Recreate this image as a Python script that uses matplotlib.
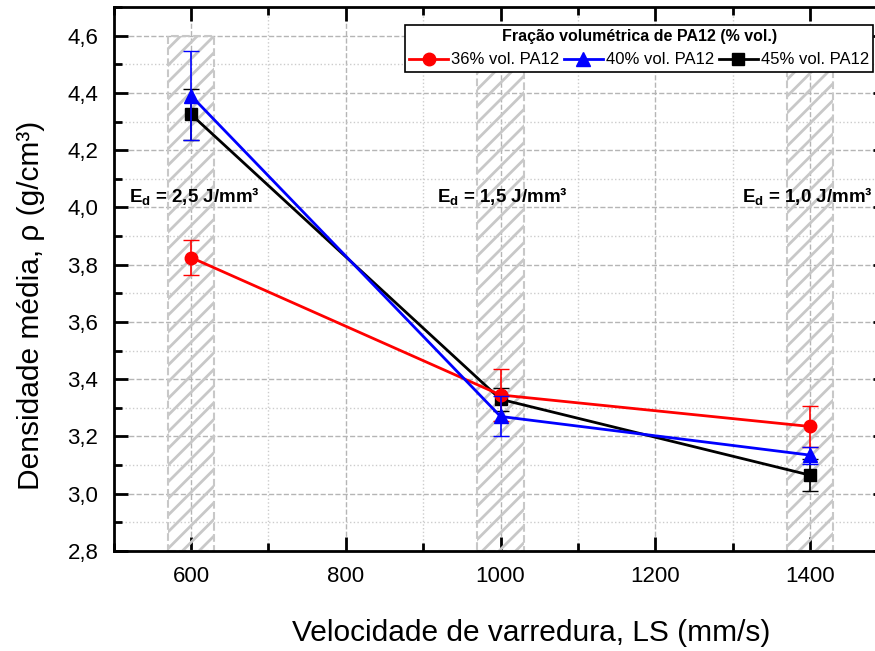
import matplotlib
matplotlib.use("Agg")
import matplotlib.pyplot as plt
from matplotlib.ticker import MultipleLocator, FuncFormatter
from matplotlib.patches import Rectangle

plt.rcParams['font.family'] = ['Liberation Sans', 'DejaVu Sans']
plt.rcParams['mathtext.fontset'] = 'custom'
plt.rcParams['mathtext.rm'] = 'Liberation Sans:bold'
plt.rcParams['mathtext.default'] = 'rm'
plt.rcParams['hatch.color'] = '#c8c8c8'
plt.rcParams['hatch.linewidth'] = 2.0

# data
speeds = [600, 1000, 1400]
energies = ["2,5", "1,5", "1,0"]

d36 = [3.825, 3.345, 3.235]
e36 = [0.06, 0.09, 0.07]
d40 = [4.39, 3.27, 3.135]
e40 = [0.155, 0.07, 0.03]
d45 = [4.325, 3.33, 3.065]
e45 = [0.09, 0.04, 0.055]

labels = ["36% vol. PA12", "40% vol. PA12", "45% vol. PA12"]

fig = plt.figure(figsize=(8.75, 6.51), dpi=100)
ax = fig.add_axes([0.130, 0.1536, 0.884, 0.8356])

# hatched bands around each speed
for s in speeds:
    ax.add_patch(Rectangle((s - 30, 2.8), 60, 1.8, facecolor='none',
                           edgecolor='#c8c8c8', hatch='//', linewidth=1.5,
                           linestyle='--', zorder=1))

eb1 = ax.errorbar(speeds, d36, yerr=e36, color='red', marker='o', markersize=9,
                  linewidth=2, capsize=6, elinewidth=1.2, zorder=4)
eb2 = ax.errorbar(speeds, d40, yerr=e40, color='blue', marker='^', markersize=10,
                  linewidth=2, capsize=6, elinewidth=1.2, zorder=5)
eb3 = ax.errorbar(speeds, d45, yerr=e45, color='black', marker='s', markersize=8,
                  linewidth=2, capsize=6, elinewidth=1.2, zorder=3)

# energy density notes
text_x = [520, 918, 1312]
for x, e in zip(text_x, energies):
    ax.text(x, 4.04, "$E_{d}$ = " + e + " J/mm³", fontsize=13.5,
            fontweight='bold', ha='left', va='center', zorder=6)

ax.set_xlim(500, 1500)
ax.set_ylim(2.8, 4.7)
ax.xaxis.set_major_locator(MultipleLocator(200))
ax.xaxis.set_minor_locator(MultipleLocator(100))
ax.yaxis.set_major_locator(MultipleLocator(0.2))
ax.yaxis.set_minor_locator(MultipleLocator(0.1))
ax.yaxis.set_major_formatter(FuncFormatter(lambda v, _: f"{v:.1f}".replace('.', ',')))
ax.set_xticks([600, 800, 1000, 1200, 1400])

ax.grid(which='major', color='#b5b5b5', linestyle='--', linewidth=1, zorder=0)
ax.grid(which='minor', color='#cccccc', linestyle=':', linewidth=1, zorder=0)
ax.set_axisbelow(True)

ax.tick_params(which='both', direction='in', top=True, right=True, width=2)
ax.tick_params(which='major', length=10, labelsize=16, pad=11)
ax.tick_params(which='minor', length=6)
for sp in ax.spines.values():
    sp.set_linewidth(2)

ax.set_xlabel("Velocidade de varredura, LS (mm/s)", fontsize=21.5)
ax.set_ylabel("Densidade média, ρ (g/cm³)", fontsize=21.5)
ax.xaxis.set_label_coords(0.54, -0.125)
ax.yaxis.set_label_coords(-0.089, 0.452)

leg = ax.legend([eb1[0], eb2[0], eb3[0]], labels, loc='upper right',
                bbox_to_anchor=(0.982, 0.967), ncol=3,
                title="Fração volumétrica de PA12 (% vol.)",
                title_fontproperties={'weight': 'bold', 'size': 11.5},
                fontsize=12, frameon=True, fancybox=False, edgecolor='black',
                framealpha=1, handlelength=2.3, handletextpad=0.2,
                columnspacing=0.3, borderpad=0.25, borderaxespad=0)
leg.get_frame().set_linewidth(1.2)

fig.savefig("out.png", dpi=100)
